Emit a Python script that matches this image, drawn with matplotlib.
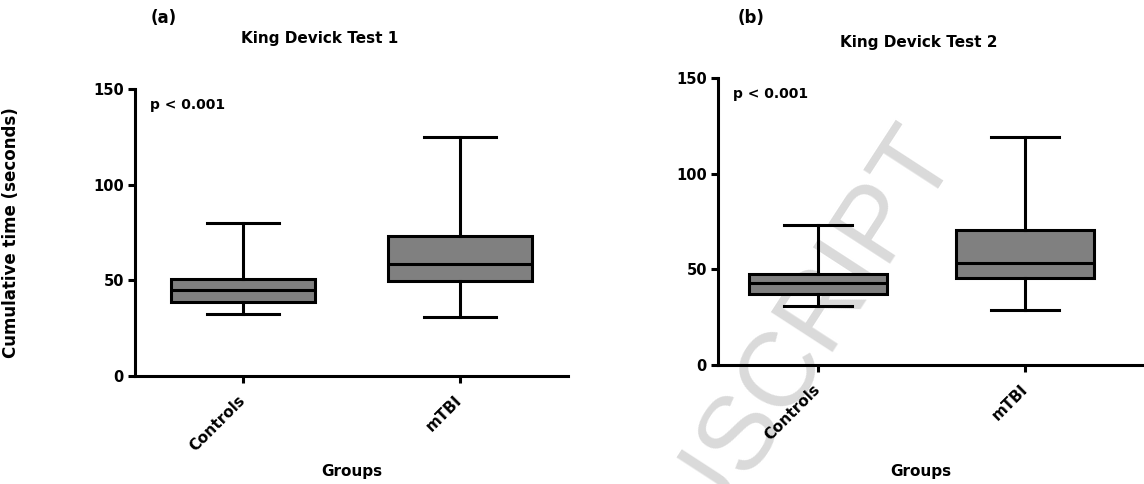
import matplotlib
matplotlib.use("Agg")
import matplotlib.pyplot as plt

# box statistics (seconds)
groups = ["Controls", "mTBI"]

test1_whislo = [32.2, 30.7]
test1_q1 = [38.8, 49.5]
test1_med = [44.7, 58.5]
test1_q3 = [50.5, 73.2]
test1_whishi = [79.8, 124.8]

test2_whislo = [30.9, 28.8]
test2_q1 = [37.3, 45.4]
test2_med = [42.8, 53.6]
test2_q3 = [47.6, 70.7]
test2_whishi = [73.1, 119.2]

y_ticks = [0, 50, 100, 150]

W, H = 1144, 484
plt.rcParams["font.family"] = "DejaVu Sans"
plt.rcParams["font.weight"] = "bold"

fig = plt.figure(figsize=(W / 100, H / 100), dpi=100)


def px(x, y):
    return x / W, 1 - y / H


def make_stats(lo, q1, med, q3, hi):
    return [dict(whislo=a, q1=b, med=c, q3=d, whishi=e, label=g, fliers=[])
            for a, b, c, d, e, g in zip(lo, q1, med, q3, hi, groups)]


def draw_panel(ax, stats, xlim, label_xy):
    lw = 2.2
    ax.bxp(stats, positions=[0, 1], widths=0.667, capwidths=0.333,
           patch_artist=True, showfliers=False,
           boxprops=dict(facecolor="#808080", edgecolor="black", linewidth=lw),
           medianprops=dict(color="black", linewidth=lw),
           whiskerprops=dict(color="black", linewidth=lw),
           capprops=dict(color="black", linewidth=lw))
    ax.set_xlim(*xlim)
    ax.set_ylim(0, 150)
    ax.set_yticks(y_ticks)
    ax.set_facecolor("none")
    for s in ["top", "right"]:
        ax.spines[s].set_visible(False)
    for s in ["left", "bottom"]:
        ax.spines[s].set_linewidth(2.2)
    ax.tick_params(axis="both", width=2.2, length=5, labelsize=10.5)
    ax.tick_params(axis="y", pad=3)
    ax.tick_params(axis="x", pad=11)
    for t in ax.get_xticklabels():
        t.set_rotation(45)
        t.set_ha("right")
        t.set_va("center")
        t.set_rotation_mode("anchor")
        t.set_fontsize(11)
    ax.set_xlabel("Groups", fontsize=11, fontweight="bold")
    ax.xaxis.set_label_coords(*label_xy)
    ax.text(0.035, 0.945, "p < 0.001", transform=ax.transAxes,
            fontsize=10, fontweight="bold", va="center")


ax1 = fig.add_axes([135 / W, 1 - 376 / H, 433 / W, 287 / H])
ax2 = fig.add_axes([718 / W, 1 - 365 / H, 426 / W, 286.7 / H])

draw_panel(ax1, make_stats(test1_whislo, test1_q1, test1_med, test1_q3, test1_whishi),
           (-0.5, 1.5), (0.5, -0.305))
draw_panel(ax2, make_stats(test2_whislo, test2_q1, test2_med, test2_q3, test2_whishi),
           (-0.483, 1.575), (0.477, -0.345))

ax1.set_ylabel("Cumulative time (seconds)", fontsize=12, fontweight="bold")
ax1.yaxis.set_label_coords(-0.265, 0.5)

fig.text(*px(164, 18), "(a)", fontsize=12, fontweight="bold", ha="center", va="center")
fig.text(*px(320, 39), "King Devick Test 1", fontsize=11, fontweight="bold",
         ha="center", va="center")
fig.text(*px(751, 18), "(b)", fontsize=12, fontweight="bold", ha="center", va="center")
fig.text(*px(919, 42), "King Devick Test 2", fontsize=11, fontweight="bold",
         ha="center", va="center")

# faint watermark from the source manuscript page
fig.text(*px(955, 150), "MANUSCRIPT", fontsize=76, fontweight="normal",
         family="Liberation Sans", color="#dadada", rotation=57,
         rotation_mode="anchor", ha="right", va="baseline", zorder=-5)

fig.savefig("out.png", dpi=100)
